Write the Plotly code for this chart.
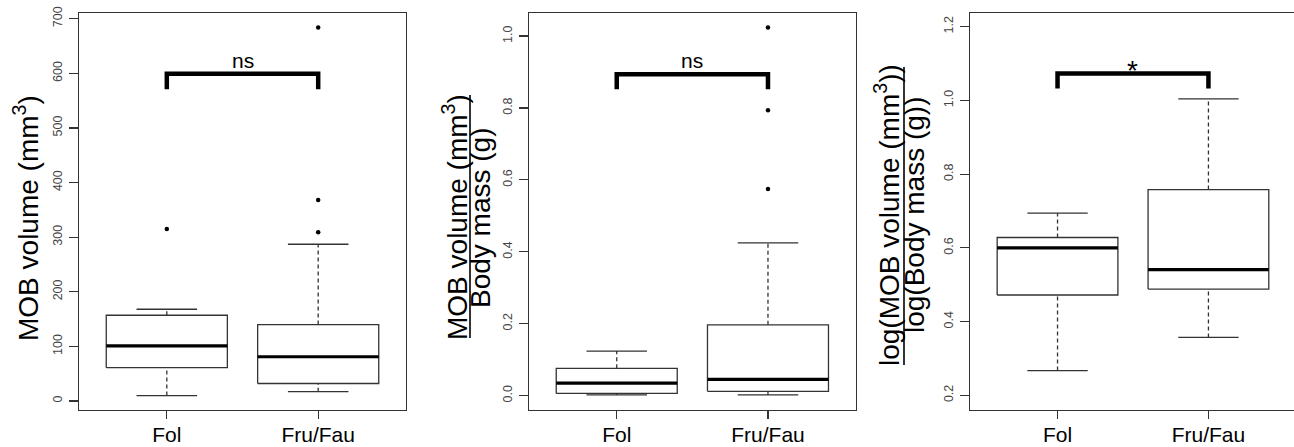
import plotly.graph_objects as go

W, H = 1294, 447

groups = ["Fol", "Fru/Fau"]
positions = [1, 2]

# Panel 1: MOB volume (mm3)  -- [Fol, Fru/Fau]
vol_low = [10, 17]
vol_q1 = [61, 32]
vol_med = [101, 81]
vol_q3 = [157, 140]
vol_high = [168, 287]
vol_out = [[315], [309, 368, 684]]

# Panel 2: MOB volume / Body mass
rel_low = [0.002, 0.002]
rel_q1 = [0.006, 0.012]
rel_med = [0.035, 0.045]
rel_q3 = [0.076, 0.197]
rel_high = [0.124, 0.425]
rel_out = [[], [0.575, 0.794, 1.024]]

# Panel 3: log(MOB volume) / log(Body mass)
log_low = [0.267, 0.357]
log_q1 = [0.472, 0.488]
log_med = [0.600, 0.541]
log_q3 = [0.628, 0.758]
log_high = [0.694, 1.004]
log_out = [[], []]

# significance brackets
bracket_top = [599, 0.894, 1.073]
bracket_end = [571, 0.852, 1.032]
bracket_label = ["ns", "ns", "*"]
label_y = [623, 0.931, 1.082]
label_size = [21, 21, 28]

y1_ticks = [0, 100, 200, 300, 400, 500, 600, 700]
y2_ticks = [0.0, 0.2, 0.4, 0.6, 0.8, 1.0]
y3_ticks = [0.2, 0.4, 0.6, 0.8, 1.0, 1.2]

FONT = "Liberation Sans, Arial, Helvetica, sans-serif"
LINE = "#333333"

fig = go.Figure()


def add_boxes(xa, ya, low, q1, med, q3, high, outs):
    for i, p in enumerate(positions):
        hw = 0.4
        cw = 0.2
        fig.add_trace(go.Scatter(
            x=[p - hw, p + hw, p + hw, p - hw, p - hw],
            y=[q1[i], q1[i], q3[i], q3[i], q1[i]],
            mode="lines", line=dict(color=LINE, width=1.3),
            xaxis=xa, yaxis=ya, showlegend=False, hoverinfo="skip"))
        fig.add_trace(go.Scatter(
            x=[p - hw, p + hw], y=[med[i], med[i]],
            mode="lines", line=dict(color="black", width=3.2),
            xaxis=xa, yaxis=ya, showlegend=False, hoverinfo="skip"))
        for a, b in ((low[i], q1[i]), (q3[i], high[i])):
            fig.add_trace(go.Scatter(
                x=[p, p], y=[a, b], mode="lines",
                line=dict(color=LINE, width=1.3, dash="4px,3px"),
                xaxis=xa, yaxis=ya, showlegend=False, hoverinfo="skip"))
        for v in (low[i], high[i]):
            fig.add_trace(go.Scatter(
                x=[p - cw, p + cw], y=[v, v], mode="lines",
                line=dict(color=LINE, width=1.3),
                xaxis=xa, yaxis=ya, showlegend=False, hoverinfo="skip"))
        if outs[i]:
            fig.add_trace(go.Scatter(
                x=[p] * len(outs[i]), y=outs[i], mode="markers",
                marker=dict(color="black", size=4.5),
                xaxis=xa, yaxis=ya, showlegend=False, hoverinfo="skip"))


def add_bracket(k, xa, ya):
    fig.add_trace(go.Scatter(
        x=[positions[0], positions[0], positions[1], positions[1]],
        y=[bracket_end[k], bracket_top[k], bracket_top[k], bracket_end[k]],
        mode="lines", line=dict(color="black", width=4.5),
        xaxis=xa, yaxis=ya, showlegend=False, hoverinfo="skip"))
    fig.add_annotation(
        x=(positions[0] + positions[1]) / 2, y=label_y[k],
        xref=xa, yref=ya, text=bracket_label[k], showarrow=False,
        font=dict(family=FONT, size=label_size[k], color="black"),
        xanchor="center", yanchor="middle")


add_boxes("x", "y", vol_low, vol_q1, vol_med, vol_q3, vol_high, vol_out)
add_boxes("x2", "y2", rel_low, rel_q1, rel_med, rel_q3, rel_high, rel_out)
add_boxes("x3", "y3", log_low, log_q1, log_med, log_q3, log_high, log_out)
add_bracket(0, "x", "y")
add_bracket(1, "x2", "y2")
add_bracket(2, "x3", "y3")

ydom = [(H - 410) / H, (H - 12.7) / H]


def xaxis(dom, rng, anchor):
    return dict(domain=dom, range=rng, anchor=anchor, automargin=False,
                tickmode="array", tickvals=positions, ticktext=groups,
                ticks="outside", ticklen=8, tickcolor=LINE, tickwidth=1.2,
                tickfont=dict(family=FONT, size=21, color="black"),
                ticklabelstandoff=-2,
                showline=True, linecolor=LINE, linewidth=1.2, mirror=True,
                showgrid=False, zeroline=False, fixedrange=True)


def yaxis(rng, anchor, tv, tt):
    return dict(domain=ydom, range=rng, anchor=anchor, automargin=False,
                tickmode="array", tickvals=tv, ticktext=tt,
                ticks="outside", ticklen=9, tickcolor=LINE, tickwidth=1.2,
                tickangle=-90,
                tickfont=dict(family=FONT, size=12.5, color="#444444"),
                ticklabelstandoff=2,
                showline=True, linecolor=LINE, linewidth=1.2, mirror=True,
                showgrid=False, zeroline=False, fixedrange=True)


fig.update_layout(
    width=W, height=H,
    margin=dict(l=0, r=0, t=0, b=0, pad=0, autoexpand=False),
    paper_bgcolor="white", plot_bgcolor="white",
    showlegend=False,
    xaxis=xaxis([79 / W, 406 / W], [0.42, 2.58], "y"),
    xaxis2=xaxis([529 / W, 855.7 / W], [0.42, 2.58], "y2"),
    xaxis3=xaxis([970 / W, 1.0], [0.42, 2.567], "y3"),
    yaxis=yaxis([-16.5, 711], "x", y1_ticks, [str(v) for v in y1_ticks]),
    yaxis2=yaxis([-0.040, 1.065], "x2", y2_ticks, [f"{v:.1f}" for v in y2_ticks]),
    yaxis3=yaxis([0.160, 1.238], "x3", y3_ticks, [f"{v:.1f}" for v in y3_ticks]),
)

TFONT = dict(family=FONT, size=28, color="black")


def vtext(xpx, ypx, text):
    fig.add_annotation(x=xpx / W, y=1 - ypx / H, xref="paper", yref="paper",
                       text=text, textangle=-90, showarrow=False,
                       font=TFONT, xanchor="center", yanchor="middle")


def vbar(xpx, y0px, y1px):
    fig.add_shape(type="line", xref="paper", yref="paper",
                  x0=xpx / W, x1=xpx / W, y0=1 - y0px / H, y1=1 - y1px / H,
                  line=dict(color="black", width=1.6))


# Panel 1 title
vtext(26, 218, "MOB volume (mm<sup>3</sup>)")
# Panel 2 title (fraction)
vtext(455, 217, "MOB volume (mm<sup>3</sup>)")
vbar(470, 95, 338)
vtext(480, 218, "Body mass (g)")
# Panel 3 title (fraction)
vtext(887, 215, "log(MOB volume (mm<sup>3</sup>))")
vbar(904, 67, 365)
vtext(915, 215, "log(Body mass (g))")

fig.write_html(
    "out.html",
    config={"displayModeBar": False, "staticPlot": True},
    post_script="document.body.style.margin='0';document.body.style.overflow='hidden';",
)
